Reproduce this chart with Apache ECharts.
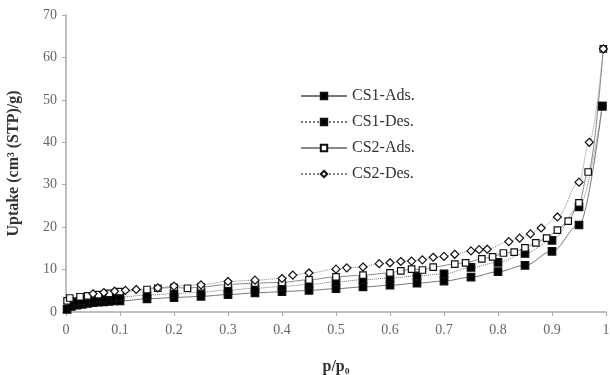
<!DOCTYPE html>
<html>
<head>
<meta charset="utf-8">
<script src="https://cdn.jsdelivr.net/npm/echarts@6/dist/echarts.min.js"></script>
<style>html,body{margin:0;padding:0;background:#fff}#c{width:610px;height:375px}</style>
</head>
<body>
<div id="c"></div>
<script>
var seriesNames = ['CS1-Ads.', 'CS1-Des.', 'CS2-Ads.', 'CS2-Des.'];
var xTicks = [0, 0.1, 0.2, 0.3, 0.4, 0.5, 0.6, 0.7, 0.8, 0.9, 1];

var cs1AdsX = [0.002, 0.01, 0.02, 0.03, 0.04, 0.05, 0.06, 0.07, 0.08, 0.09, 0.1, 0.15, 0.2, 0.25, 0.3, 0.35, 0.4, 0.45, 0.5, 0.55, 0.6, 0.65, 0.7, 0.75, 0.8, 0.85, 0.9, 0.95, 0.993];
var cs1AdsY = [0.6, 1.3, 1.6, 1.8, 2.0, 2.2, 2.3, 2.4, 2.5, 2.6, 2.6, 3.1, 3.4, 3.7, 4.1, 4.5, 4.8, 5.1, 5.5, 5.9, 6.3, 6.8, 7.3, 8.2, 9.5, 11.0, 14.3, 20.5, 48.5];

var cs1DesX = [0.01, 0.02, 0.03, 0.05, 0.07, 0.09, 0.1, 0.15, 0.2, 0.25, 0.3, 0.35, 0.4, 0.45, 0.5, 0.55, 0.6, 0.65, 0.7, 0.75, 0.8, 0.85, 0.9, 0.95, 0.993];
var cs1DesY = [2.0, 2.4, 2.7, 3.0, 3.2, 3.4, 3.5, 4.0, 4.3, 4.7, 5.2, 5.6, 6.0, 6.5, 7.1, 7.6, 8.0, 8.5, 9.0, 10.5, 11.7, 13.8, 16.9, 24.8, 48.5];

var cs2AdsX = [0.002, 0.007, 0.026, 0.04, 0.06, 0.08, 0.1, 0.15, 0.17, 0.2, 0.225, 0.25, 0.3, 0.35, 0.4, 0.45, 0.5, 0.55, 0.6, 0.62, 0.64, 0.66, 0.68, 0.72, 0.74, 0.77, 0.79, 0.81, 0.83, 0.85, 0.87, 0.89, 0.91, 0.93, 0.95, 0.967, 0.995];
var cs2AdsY = [2.6, 3.3, 3.6, 3.8, 4.1, 4.4, 4.8, 5.3, 5.6, 5.8, 5.6, 5.9, 6.5, 6.8, 7.0, 7.6, 8.3, 8.7, 9.2, 9.7, 10.1, 9.9, 10.6, 11.3, 11.6, 12.5, 13.0, 13.9, 14.1, 15.1, 16.3, 17.4, 19.3, 21.4, 25.7, 33.0, 62.0];

var cs2DesX = [0.05, 0.07, 0.09, 0.11, 0.13, 0.17, 0.2, 0.25, 0.3, 0.35, 0.4, 0.42, 0.45, 0.5, 0.52, 0.55, 0.58, 0.6, 0.62, 0.64, 0.66, 0.68, 0.7, 0.72, 0.75, 0.765, 0.78, 0.82, 0.84, 0.86, 0.88, 0.91, 0.95, 0.969, 0.995];
var cs2DesY = [4.3, 4.6, 4.9, 5.1, 5.3, 5.7, 6.1, 6.4, 7.2, 7.5, 7.9, 8.7, 9.2, 10.1, 10.4, 10.6, 11.4, 11.6, 11.9, 12.0, 12.3, 12.9, 13.1, 13.6, 14.4, 14.7, 14.8, 16.6, 17.4, 18.4, 19.8, 22.4, 30.6, 40.0, 62.0];

function pairs(xs, ys) { return xs.map(function (x, i) { return [x, ys[i]]; }); }

var serif = '"Liberation Serif", "DejaVu Serif", serif';
var chart = echarts.init(document.getElementById('c'), null, { renderer: 'canvas' });

function mk(name, data, symbol, size, fill, dashed, lineColor) {
  return {
    name: name, type: 'line', data: data,
    symbol: symbol, symbolSize: size,
    smooth: 0.35, smoothMonotone: 'x',
    itemStyle: { color: fill, borderColor: '#111', borderWidth: 1.2 },
    lineStyle: { color: lineColor, width: 1, type: dashed ? 'dotted' : 'solid' },
    emphasis: { disabled: true },
    animation: false
  };
}

chart.setOption({
  animation: false,
  backgroundColor: '#fff',
  grid: { left: 66, right: 4, top: 15, bottom: 63, containLabel: false, outerBoundsMode: 'none' },
  legend: {
    orient: 'vertical', left: 295, top: 83,
    itemWidth: 46, itemHeight: 8, itemGap: 10,
    textStyle: { fontFamily: serif, fontSize: 16, color: '#333' },
    data: seriesNames
  },
  xAxis: {
    type: 'value', min: 0, max: 1, interval: 0.1,
    name: 'p/p\u2080', nameLocation: 'middle', nameGap: 47,
    nameTextStyle: { fontFamily: serif, fontSize: 16, fontWeight: 'bold', color: '#333' },
    axisLine: { lineStyle: { color: '#aaa', width: 1.5 } },
    axisTick: { show: true, length: 4, lineStyle: { color: '#aaa' } },
    axisLabel: { fontFamily: serif, fontSize: 14, color: '#666', margin: 11,
      formatter: function (v) { var r = Math.round(v * 10) / 10; return xTicks.indexOf(r) >= 0 ? String(r) : ''; } },
    splitLine: { show: false }
  },
  yAxis: {
    type: 'value', min: 0, max: 70, interval: 10,
    name: 'Uptake (cm\u00b3 (STP)/g)', nameLocation: 'middle', nameGap: 44, nameRotate: 90,
    nameTextStyle: { fontFamily: serif, fontSize: 16, fontWeight: 'bold', color: '#333' },
    axisLine: { show: true, lineStyle: { color: '#aaa', width: 1.5 } },
    axisTick: { show: true, length: 4, lineStyle: { color: '#aaa' } },
    axisLabel: { fontFamily: serif, fontSize: 14, color: '#666', margin: 9 },
    splitLine: { show: false }
  },
  series: [
    mk(seriesNames[0], pairs(cs1AdsX, cs1AdsY), 'rect', 7.5, '#000', false, '#777'),
    mk(seriesNames[1], pairs(cs1DesX, cs1DesY), 'rect', 7.5, '#000', true, '#777'),
    mk(seriesNames[2], pairs(cs2AdsX, cs2AdsY), 'rect', 6.5, '#fff', false, '#888'),
    mk(seriesNames[3], pairs(cs2DesX, cs2DesY), 'diamond', 8, '#fff', true, '#888')
  ]
});
</script>
</body>
</html>
